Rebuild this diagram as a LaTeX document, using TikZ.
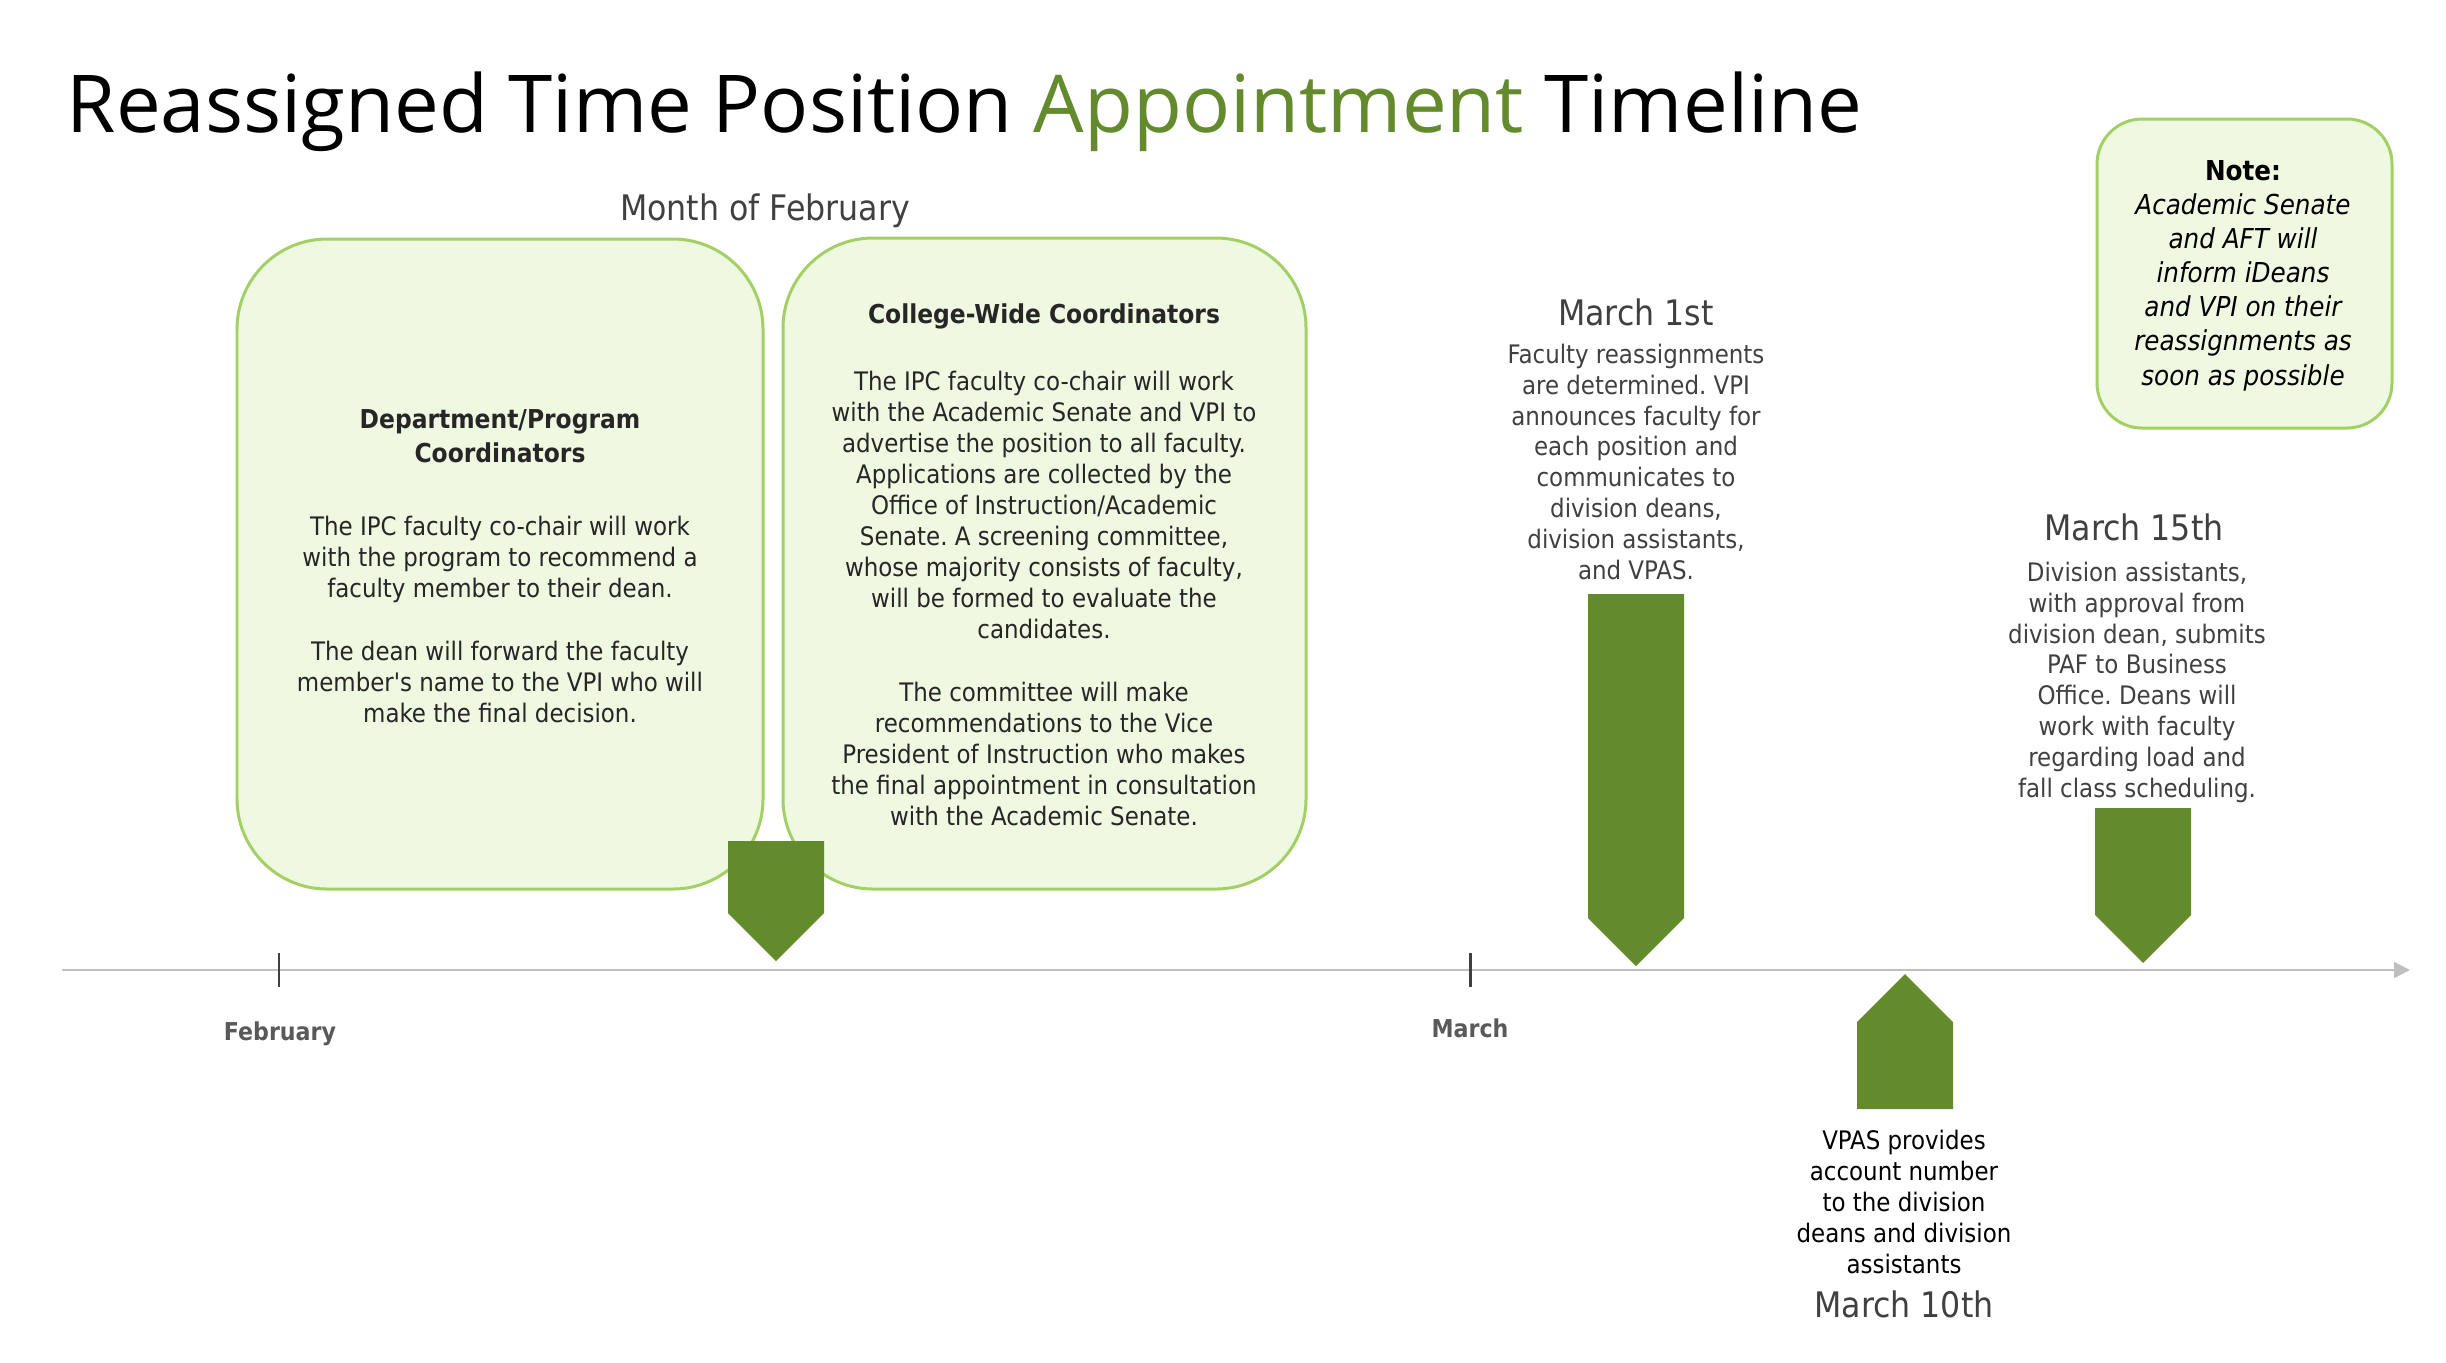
\documentclass[tikz,border=0pt]{standalone}
\usepackage{fontspec}
\setmainfont{DejaVu Sans Condensed}
\newfontfamily\titlefont{Open Sans}
\usetikzlibrary{arrows.meta}
\frenchspacing
\definecolor{gdark}{HTML}{648A2E}
\definecolor{gfill}{HTML}{EFF8E0}
\definecolor{gline}{HTML}{A3D065}
\definecolor{axisgray}{HTML}{BFBFBF}
\definecolor{txtgray}{HTML}{404040}
\definecolor{lblgray}{HTML}{595959}
\definecolor{bodytxt}{HTML}{262626}
\begin{document}
\frenchspacing
\begin{tikzpicture}[x=0.01cm,y=-0.01cm,
  panel/.style={draw=gline, fill=gfill, line width=0.85pt, rounded corners=0.9cm},
  notepanel/.style={draw=gline, fill=gfill, line width=0.85pt, rounded corners=0.45cm},
  marker/.style={fill=gdark, draw=none},
  body/.style={font=\fontsize{7.25}{8.8}\selectfont, align=center, inner sep=0pt, anchor=base, text=bodytxt},
  head/.style={font=\bfseries\fontsize{7.4}{9.5}\selectfont, align=center, inner sep=0pt, anchor=base, text=bodytxt},
  evtext/.style={font=\fontsize{7.25}{8.75}\selectfont, align=center, inner sep=0pt, anchor=base, text=txtgray},
  evhead/.style={font=\fontsize{10}{12}\selectfont, align=center, inner sep=0pt, anchor=base, text=txtgray},
  axlabel/.style={font=\bfseries\fontsize{7}{8}\selectfont, inner sep=0pt, anchor=base, text=lblgray},
  tickline/.style={draw=txtgray, line width=0.85pt}
]
\useasboundingbox (0,0) rectangle (2446,1362);

% title
\node[anchor=base west, inner sep=0pt, font=\titlefont\fontsize{22.7}{28}\selectfont] (title) at (66,132)
  {Reassigned Time Position \textcolor{gdark}{Appointment} Timeline};
\node[evhead] (month) at (765,220) {Month of February};

% panels
\path[panel] (237,239) rectangle (763,889);
\path[panel] (783,238) rectangle (1306,889);
\path[notepanel] (2097,119) rectangle (2392,428);

% axis
\coordinate (axs) at (62,970);
\coordinate (axe) at (2410,970);
\draw[axisgray, line width=0.6pt, -{Triangle[length=4.5pt,width=4.5pt]}] (axs) -- (axe);
\coordinate (febtop) at (279,953); \coordinate (febbot) at (279,987);
\coordinate (martop) at (1470,953); \coordinate (marbot) at (1470,987);
\draw[tickline] (febtop) -- (febbot);
\draw[tickline] (martop) -- (marbot);
\node[axlabel] (feb) at (280,1040) {February};
\node[axlabel] (mar) at (1470,1037) {March};

% markers
\fill[marker] (728,841) -- (824,841) -- (824,913) -- (776,961) -- (728,913) -- cycle;
\fill[marker] (1588,594) -- (1684,594) -- (1684,918) -- (1636,966) -- (1588,918) -- cycle;
\fill[marker] (2095,808) -- (2191,808) -- (2191,915) -- (2143,963) -- (2095,915) -- cycle;
\fill[marker] (1857,1109) -- (1953,1109) -- (1953,1022) -- (1905,974) -- (1857,1022) -- cycle;

% box 1 (anchor base = last line's baseline)
\node[head] (dphead) at (500,462) {Department/Program\\Coordinators};
\node[body] (dp1) at (500,597) {The IPC faculty co-chair will work\\with the program to recommend a\\faculty member to their dean.};
\node[body] (dp2) at (500,722) {The dean will forward the faculty\\member\textquotesingle s name to the VPI who will\\make the final decision.};

% box 2
\node[head] (cwhead) at (1044,323) {College-Wide Coordinators};
\node[body] (cw1) at (1044,638) {The IPC faculty co-chair will work\\with the Academic Senate and VPI to\\advertise the position to all faculty.\\Applications are collected by the\\Office of Instruction/Academic\\Senate. A screening committee,\\whose majority consists of faculty,\\will be formed to evaluate the\\candidates.};
\node[body] (cw2) at (1044,825) {The committee will make\\recommendations to the Vice\\President of Instruction who makes\\the final appointment in consultation\\with the Academic Senate.};

% March 1st
\node[evhead] (m1head) at (1636,325) {March 1st};
\node[evtext] (m1body) at (1636,579) {Faculty reassignments\\are determined. VPI\\announces faculty for\\each position and\\communicates to\\division deans,\\division assistants,\\and VPAS.};

% March 15th
\node[evhead] (m15head) at (2134,540) {March 15th};
\node[evtext] (m15body) at (2137,797) {Division assistants,\\with approval from\\division dean, submits\\PAF to Business\\Office. Deans will\\work with faculty\\regarding load and\\fall class scheduling.};

% March 10th
\node[body, text=black] (m10body) at (1904,1273) {VPAS provides\\account number\\to the division\\deans and division\\assistants};
\node[evhead] (m10head) at (1904,1317) {March 10th};

% note
\node[font=\itshape\fontsize{7.8}{9.7}\selectfont, align=center, inner sep=0pt, anchor=base, text=black] (note) at (2243,385)
  {{\upshape\bfseries Note:}\\Academic Senate\\and AFT will\\inform iDeans\\and VPI on their\\reassignments as\\soon as possible};
\end{tikzpicture}
\end{document}
